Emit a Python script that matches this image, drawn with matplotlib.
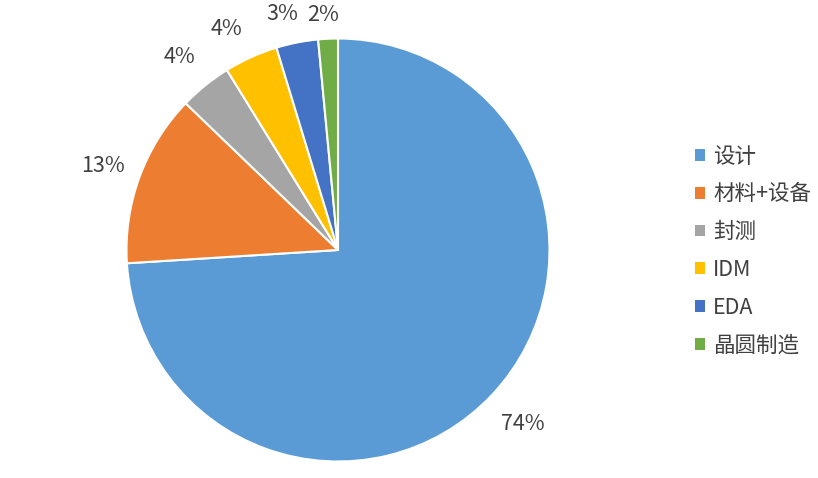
import matplotlib
matplotlib.use('Agg')
import matplotlib.pyplot as plt
import numpy as np
from matplotlib.patches import Patch

plt.rcParams['font.family'] = ['Noto Sans CJK SC', 'DejaVu Sans']

categories = ['设计', '材料+设备', '封测', 'IDM', 'EDA', '晶圆制造']
shares = [74.0, 13.2, 4.0, 4.1, 3.2, 1.5]
pct_labels = ['74%', '13%', '4%', '4%', '3%', '2%']
colors = ['#5B9BD5', '#ED7D31', '#A5A5A5', '#FFC000', '#4472C4', '#70AD47']
# label distance (in radii) and angular nudge (deg) per slice
label_dist = [1.20, 1.18, 1.18, 1.17, 1.145, 1.115]
label_nudge = [0, 0.5, 0.5, 2.6, 2.1, 0.9]
text_color = '#404040'

fig = plt.figure(figsize=(8.18, 4.78), dpi=100)
W, H = 818, 478
cx, cy, r = 338, 250, 211.5
ax = fig.add_axes([(cx - r) / W, (H - cy - r) / H, 2 * r / W, 2 * r / H])
wedges, _ = ax.pie(shares, colors=colors, startangle=90, counterclock=False,
                   radius=1, wedgeprops=dict(edgecolor='white', linewidth=1.5))
ax.set_xlim(-1, 1)
ax.set_ylim(-1, 1)
ax.set_aspect('equal')
ax.axis('off')

for w, lab, d, nud in zip(wedges, pct_labels, label_dist, label_nudge):
    ang = np.deg2rad((w.theta1 + w.theta2) / 2 + nud)
    ax.text(d * np.cos(ang), d * np.sin(ang), lab, ha='center', va='center',
            fontsize=15.5, weight='medium', color=text_color, clip_on=False)

handles = [Patch(facecolor=c, edgecolor='none') for c in colors]
fig.legend(handles, categories, loc='center left', bbox_to_anchor=(695 / W, 1 - 251 / H),
           frameon=False, borderpad=0, borderaxespad=0, prop=dict(size=15.5, weight='medium'),
           labelcolor=text_color, handlelength=0.47, handleheight=0.47,
           handletextpad=0.37, labelspacing=0.73)

fig.savefig('out.png', dpi=100)
